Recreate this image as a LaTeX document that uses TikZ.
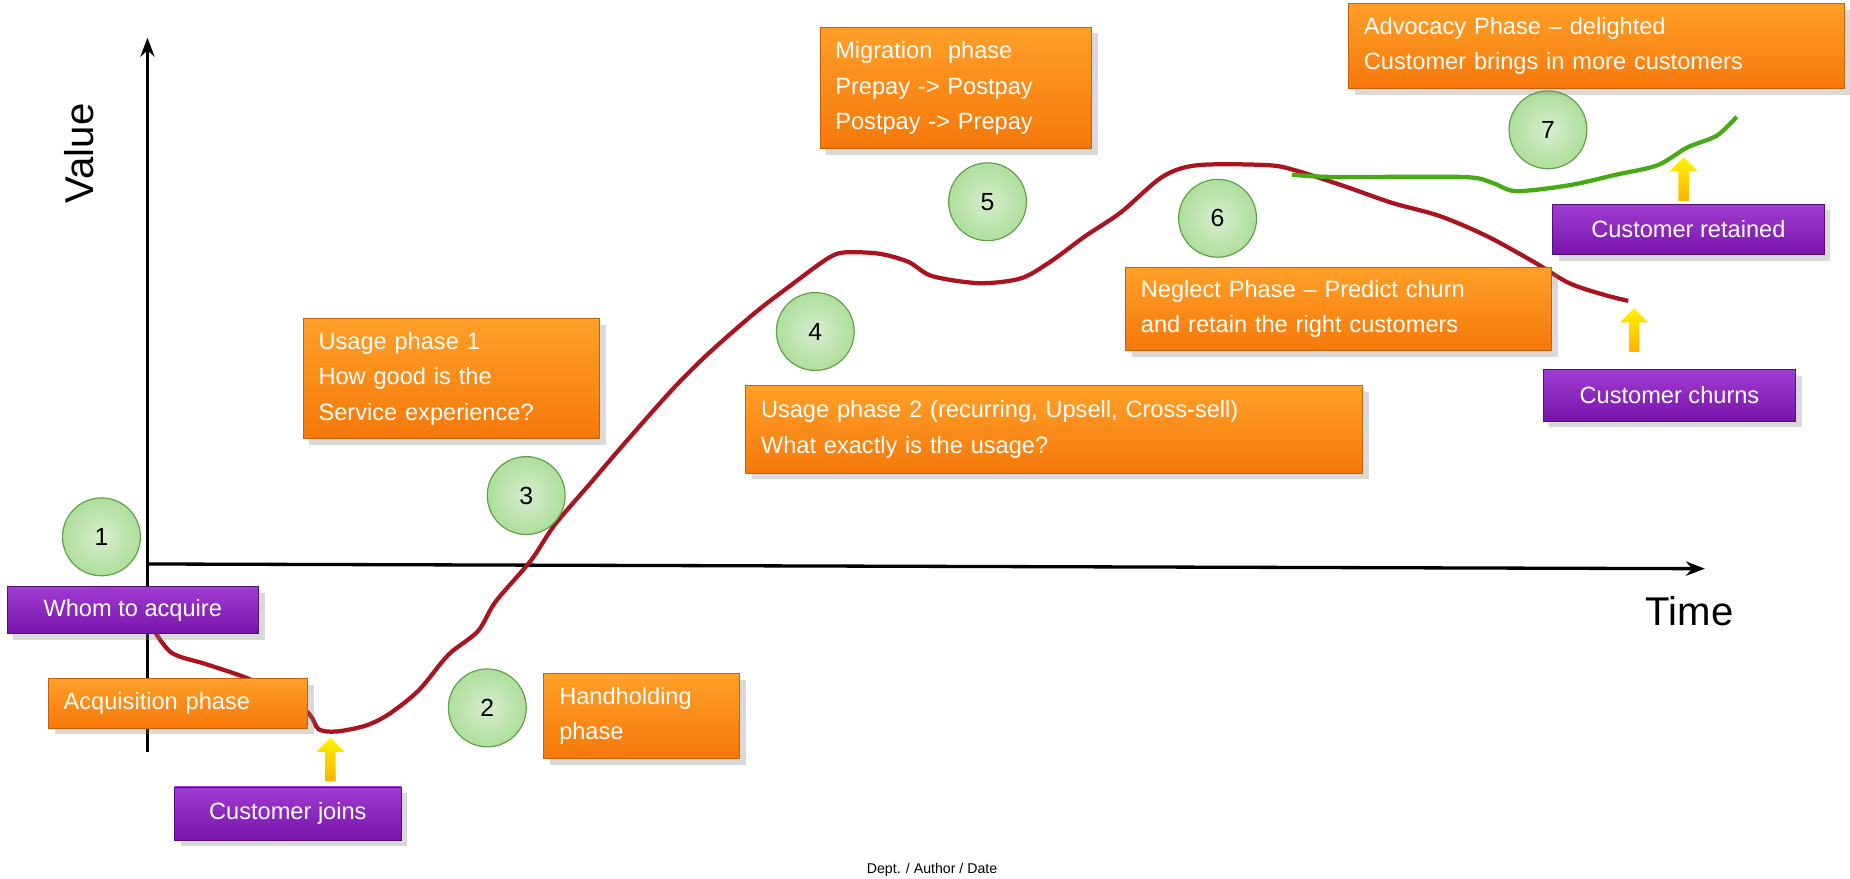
\documentclass[tikz,border=0pt]{standalone}
\usepackage{fontspec}
\setmainfont{Liberation Sans}
\usetikzlibrary{arrows.meta, shapes.arrows, shadows, positioning}
\definecolor{phaseorange}{RGB}{245,120,10}
\definecolor{phaselight}{RGB}{255,160,40}
\definecolor{eventpurple}{RGB}{120,20,170}
\definecolor{eventlight}{RGB}{160,60,210}
\definecolor{stepgreen}{RGB}{120,200,90}
\definecolor{curvered}{RGB}{170,20,30}
\definecolor{curvegreen}{RGB}{70,170,20}
\tikzset{phasebox/.style={rectangle, top color=phaselight, bottom color=phaseorange, draw=phaseorange!80!black, line width=0.4pt, drop shadow={opacity=0.3}, text=white, align=left, inner xsep=6.5pt, inner ysep=0pt, font=\fontsize{10}{15}\selectfont},
eventbox/.style={rectangle, top color=eventlight, bottom color=eventpurple, draw=eventpurple!70!black, line width=0.4pt, drop shadow={opacity=0.3}, text=white, align=center, inner sep=0pt, font=\fontsize{10}{15}\selectfont},
stepnode/.style={circle, inner color=white!70!stepgreen, outer color=stepgreen!60, draw=stepgreen!80!black, line width=0.5pt, minimum size=33pt, inner sep=0pt, font=\fontsize{10.5}{12}\selectfont},
uparrow/.style={single arrow, shape border rotate=90, top color=yellow!90!orange, bottom color=orange!60!yellow, draw=none, minimum height=18.5pt, minimum width=12pt, single arrow head extend=2pt, single arrow tip angle=90, inner sep=1pt}}

\begin{document}
\begin{tikzpicture}[x=0.5pt, y=-0.5pt]
    \useasboundingbox (0,0) rectangle (1568,745);
    % Axes
    \draw[line width=1.4pt, -{Stealth[length=8pt]}] (125,637) -- (125,32);
    \draw[line width=1.4pt, -{Stealth[length=8pt]}] (125,478) -- (1445,482);
    \node[rotate=90, font=\fontsize{17}{20}\selectfont] (valuelabel) at (67,130) {Value};
    \node[font=\fontsize{17}{20}\selectfont] (timelabel) at (1432,518) {Time};
    % Curves
    \draw[curvered, line width=1.8pt, line join=round] plot[smooth, tension=0.5] coordinates {
        (128,530) (145,553) (175,563) (210,575) (240,590) (262,605) (270,618) (285,620) (310,615)
        (330,605) (355,585) (380,555) (405,535) (420,510) (450,475) (470,445) (500,410) (530,375)
        (570,330) (600,300) (640,265) (670,242) (700,220) (715,214) (745,215) (770,222) (790,234)
        (830,240) (865,236) (890,222) (920,200) (950,180) (985,150) (1015,140) (1075,140) (1100,145)
        (1140,158) (1180,172) (1220,183) (1260,200) (1300,222) (1330,240) (1360,250) (1380,255)};
    \draw[curvegreen, line width=1.8pt, line join=round] plot[smooth, tension=0.5] coordinates {
        (1095,148) (1130,150) (1240,150) (1265,155) (1285,162) (1330,157) (1370,148) (1405,140)
        (1430,125) (1455,115) (1472,99)};
    % Phase steps
    \foreach \name/\x/\y in {1/86/455, 2/413/600, 3/446/420, 4/691/281, 5/837/171, 6/1032/185, 7/1312/110} {
        \node[stepnode] (step\name) at (\x,\y) {\name};
    }
    % Phases
    \node[phasebox, text width=102pt, minimum height=51.5pt] (migration) at (810,74.5) {Migration\ \ phase\\Prepay -> Postpay\\Postpay -> Prepay};
    \node[phasebox, text width=197pt, minimum height=36pt] (advocacy) at (1353,39) {Advocacy Phase – delighted\\Customer brings in more customers};
    \node[phasebox, text width=112.5pt, minimum height=51pt] (usageone) at (382.5,321) {Usage phase 1\\How good is the\\Service experience?};
    \node[phasebox, text width=167.5pt, minimum height=35pt] (neglect) at (1134.5,262) {Neglect Phase – Predict churn\\and retain the right customers};
    \node[phasebox, text width=248.5pt, minimum height=37pt] (usagetwo) at (893.5,364) {Usage phase 2 (recurring, Upsell, Cross-sell)\\What exactly is the usage?};
    \node[phasebox, text width=97pt, minimum height=21pt] (acquisition) at (151,596) {Acquisition phase};
    \node[phasebox, text width=70pt, minimum height=36pt] (handholding) at (544,607) {Handholding\\phase};
    % Events
    \node[eventbox, minimum width=106.5pt, minimum height=20pt] (whom) at (112.5,517) {Whom to acquire};
    \node[eventbox, minimum width=96pt, minimum height=22.5pt] (joins) at (244,689.5) {Customer joins};
    \node[eventbox, minimum width=115pt, minimum height=21.5pt] (retained) at (1431,194.5) {Customer retained};
    \node[eventbox, minimum width=107pt, minimum height=22pt] (churns) at (1415,335) {Customer churns};
    % Markers
    \node[uparrow] (joinsarrow) at (280,646) {};
    \node[uparrow] (retainedarrow) at (1427,154) {};
    \node[uparrow] (churnsarrow) at (1385,282) {};
    % Footer
    \node[font=\fontsize{6}{7}\selectfont] (footer) at (790,737) {Dept. / Author / Date};
\end{tikzpicture}
\end{document}
